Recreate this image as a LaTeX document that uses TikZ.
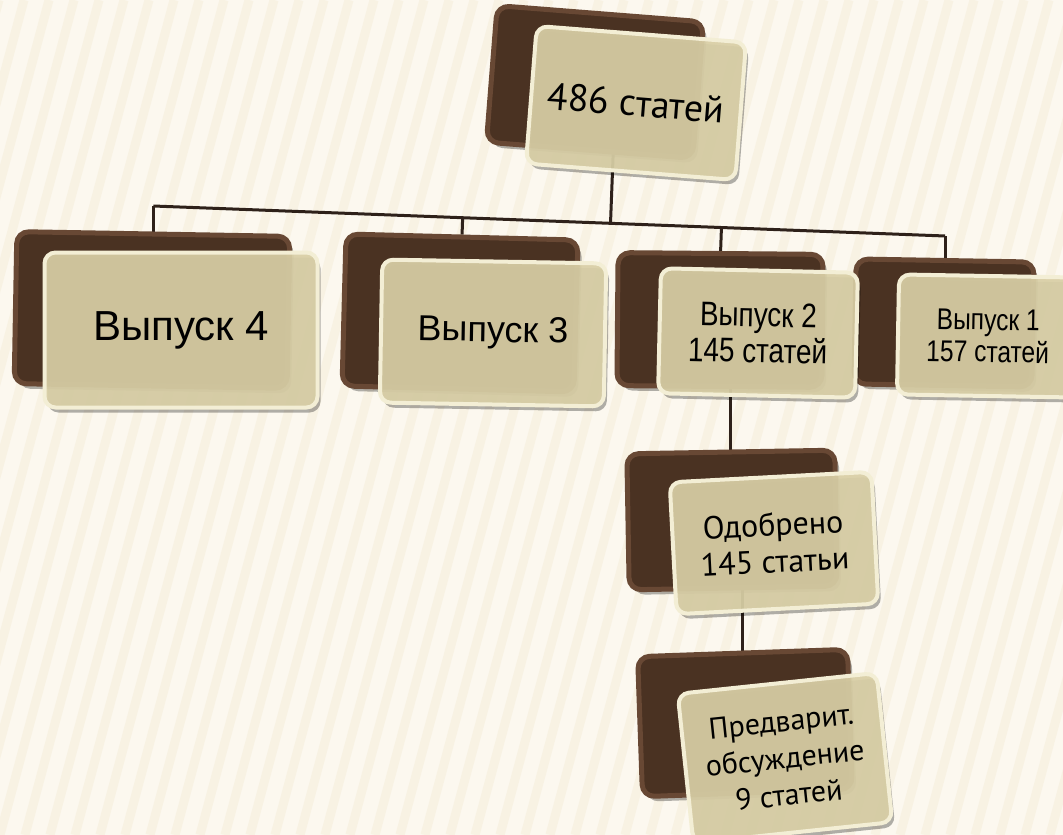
\documentclass[tikz,border=0pt]{standalone}
\usepackage{fontspec}
\setmainfont{Liberation Sans}
\newfontfamily\narrowfont[FakeStretch=0.82]{Liberation Sans}
\newfontfamily\ptfont{PT Sans}
\usetikzlibrary{calc,shadows}
\definecolor{paper}{HTML}{FCF8EF}
\definecolor{stripe}{HTML}{F8F2E3}
\definecolor{choco}{HTML}{4A3222}
\definecolor{chocorim}{HTML}{684834}
\definecolor{sand}{HTML}{D9CFA6}
\definecolor{sandrim}{HTML}{F3EED5}
\definecolor{wirecol}{HTML}{2E211A}
\pgfdeclarelayer{paperlayer}
\pgfdeclarelayer{wires}
\pgfsetlayers{paperlayer,wires,main}
\tikzset{
  backbox/.style={draw=chocorim,line width=5pt,fill=choco,rounded corners=12pt,
    drop shadow={shadow xshift=4pt,shadow yshift=-5pt,fill=black,opacity=.3}},
  frontbox/.style={draw=sandrim,line width=4pt,fill=sand,fill opacity=.93,text opacity=1,
    rounded corners=11pt,align=center,inner sep=0pt,
    drop shadow={shadow xshift=3pt,shadow yshift=-5pt,fill=black,opacity=.3}},
  wireline/.style={draw=wirecol,line width=3pt}
}
\begin{document}
\begin{tikzpicture}[x=1pt,y=-1pt]
\useasboundingbox (0,0) rectangle (1063,835);
\begin{pgfonlayer}{paperlayer}
  \fill[paper] (0,0) rectangle (1063,835);
  \clip (0,0) rectangle (1063,835);
  \foreach \s in {-300,-275,...,1075}
    \draw[stripe,line width=9pt] (\s,835) -- (\s+224,0);
\end{pgfonlayer}
% dark boxes behind
\foreach \x/\y/\w/\h/\r [count=\n] in
    {595/82/207/137/-4.5,152/310/273/152/-1,460/313/232/152/-1.5,720/320/205/133/-0.5,
     944/323/178/125/-1,732/520/208/136/1,745/723/210/140/2}
  \node[backbox,minimum width=\w pt,minimum height=\h pt,rotate=\r] (B\n) at (\x,\y) {};
% light boxes in front
\foreach \x/\y/\w/\h/\r/\f/\t [count=\n] in
    {636/103/210/138/-4.5/\ptfont\fontsize{38}{44}\selectfont/486 статей,
     181/330/273/155/0/\fontsize{42}{48}\selectfont/Выпуск 4,
     493/333/224/143/-1/\fontsize{36}{42}\selectfont/Выпуск 3,
     758/333/197/125/-1.3/\narrowfont\fontsize{34}{36}\selectfont/Выпуск 2\\145 статей,
     988/336/180/120/-1/\narrowfont\fontsize{30}{32}\selectfont/Выпуск 1\\157 статей,
     774/543/202/132/3/\ptfont\fontsize{32}{37}\selectfont/Одобрено\\145 статьи,
     785/758/200/150/6/\ptfont\fontsize{30}{37}\selectfont/Предварит.\\обсуждение\\9 статей}
  \node[frontbox,minimum width=\w pt,minimum height=\h pt,rotate=\r,font=\f] (F\n) at (\x,\y) {\t};
\begin{pgfonlayer}{wires}
  \coordinate (L) at (B2.north |- 0,206);
  \coordinate (R) at (B5.north |- 0,236);
  \coordinate (T) at ($(B1.center)!.5!(F1.center)$);
  \draw[wireline] (L) -- (R);
  \draw[wireline] (L) -- (B2.north);
  \draw[wireline] (R) -- (B5.north);
  \draw[wireline] (B3.north) -- ($(L)!(B3.north)!(R)$);
  \draw[wireline] (B4.north) -- ($(L)!(B4.north)!(R)$);
  \draw[wireline] (T) -- ($(L)!(T)!(R)$);
  \draw[wireline] (B6.north) -- (B6.north |- F4.center);
  \draw[wireline] (B7.north) -- (B7.north |- F6.center);
\end{pgfonlayer}
\end{tikzpicture}
\end{document}
